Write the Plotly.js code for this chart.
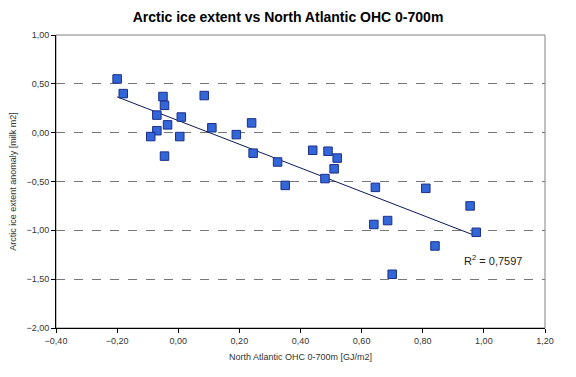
<!DOCTYPE html>
<html>
<head>
<meta charset="utf-8">
<script src="https://cdn.plot.ly/plotly-3.0.1.min.js"></script>
<style>html,body{margin:0;padding:0;background:#fff;}#chart{width:576px;height:377px;}</style>
</head>
<body>
<div id="chart"></div>
<script>
var ohc = [-0.20, -0.18, -0.05, -0.045, -0.07, -0.07, -0.09, -0.035, -0.045, 0.01, 0.005, 0.085, 0.11, 0.19, 0.24, 0.245, 0.325, 0.35, 0.44, 0.49, 0.52, 0.51, 0.48, 0.645, 0.64, 0.685, 0.70, 0.81, 0.84, 0.955, 0.975];
var ice = [0.55, 0.40, 0.37, 0.28, 0.18, 0.02, -0.04, 0.08, -0.24, 0.16, -0.04, 0.38, 0.05, -0.02, 0.10, -0.21, -0.30, -0.54, -0.18, -0.19, -0.26, -0.37, -0.47, -0.56, -0.94, -0.90, -1.45, -0.57, -1.16, -0.75, -1.02];
var r2Label = "R<sup>2</sup> = 0,7597";
var xTicks = [-0.4, -0.2, 0, 0.2, 0.4, 0.6, 0.8, 1.0, 1.2];
var yTicks = [1.0, 0.5, 0, -0.5, -1.0, -1.5, -2.0];

// least-squares trend line over the data range
var n = ohc.length, sx = 0, sy = 0, sxx = 0, sxy = 0;
for (var i = 0; i < n; i++) { sx += ohc[i]; sy += ice[i]; sxx += ohc[i]*ohc[i]; sxy += ohc[i]*ice[i]; }
var slope = (n*sxy - sx*sy) / (n*sxx - sx*sx);
var icpt = (sy - slope*sx) / n;
var xmin = Math.min.apply(null, ohc), xmax = Math.max.apply(null, ohc);
var trendX = [xmin, xmax];
var trendY = trendX.map(function(v){ return icpt + slope*v; });

var font = 'Arial, "Liberation Sans", sans-serif';
var traces = [
  {x: trendX, y: trendY, mode: 'lines', type: 'scatter', line: {color: '#0b1a5c', width: 1}, hoverinfo: 'skip'},
  {x: ohc, y: ice, mode: 'markers', type: 'scatter',
   marker: {symbol: 'square', size: 8.5, color: '#3366d6', line: {color: '#1a2f8a', width: 1}}}
];
var layout = {
  width: 576, height: 377,
  margin: {l: 56, r: 31, t: 35, b: 49},
  paper_bgcolor: '#ffffff', plot_bgcolor: '#ffffff',
  showlegend: false,
  separators: ', ',
  font: {family: font, size: 9, color: '#222'},
  title: {text: '<b>Arctic ice extent vs North Atlantic OHC 0-700m</b>', x: 0.5, xanchor: 'center', y: 0.955, yanchor: 'middle', font: {family: font, size: 14, color: '#000'}},
  xaxis: {range: [-0.4, 1.2], tickvals: xTicks, tickformat: '.2f', showgrid: false, zeroline: false,
          showline: true, linecolor: '#000', linewidth: 1, ticks: 'outside', ticklen: 4, tickcolor: '#000',
          tickfont: {family: font, size: 9, color: '#333'},
          title: {text: 'North Atlantic OHC 0-700m [GJ/m2]', standoff: 8, font: {family: font, size: 9, color: '#333'}}},
  yaxis: {range: [-2.0, 1.0], tickvals: yTicks, tickformat: '.2f', showgrid: true, gridcolor: '#777', griddash: 'dash', gridwidth: 1,
          zeroline: false, showline: true, linecolor: '#000', linewidth: 1, ticks: 'outside', ticklen: 4, tickcolor: '#000',
          tickfont: {family: font, size: 9, color: '#333'},
          title: {text: 'Arctic ice extent anomaly [milk m2]', standoff: 8, font: {family: font, size: 9, color: '#333'}}},
  shapes: [{type: 'rect', xref: 'paper', yref: 'paper', x0: 0, x1: 1, y0: 0, y1: 1, line: {color: '#808080', width: 1}, layer: 'below'}],
  annotations: [{x: 1.03, y: -1.30, xref: 'x', yref: 'y', text: r2Label, showarrow: false, xanchor: 'center', font: {family: font, size: 11, color: '#222'}}]
};
Plotly.newPlot('chart', traces, layout, {displayModeBar: false, staticPlot: true});
</script>
</body>
</html>
